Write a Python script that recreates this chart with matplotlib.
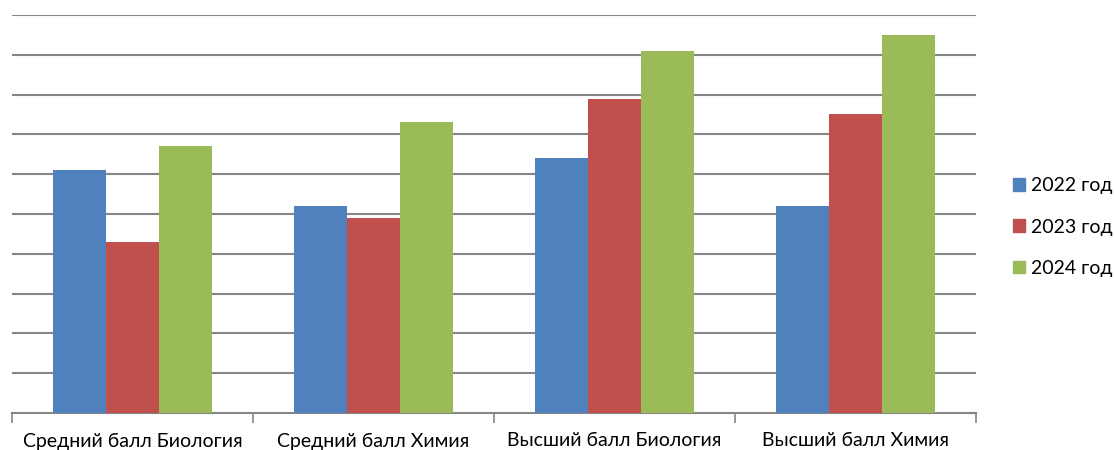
import numpy as np
import matplotlib.pyplot as plt
from matplotlib.patches import Patch

plt.rcParams['font.family'] = ['Lato', 'DejaVu Sans']

categories = ['Средний балл Биология', 'Средний балл Химия',
              'Высший балл Биология', 'Высший балл Химия']
series_names = ['2022 год', '2023 год', '2024 год']
v2022 = [6.1, 5.2, 6.4, 5.2]
v2023 = [4.3, 4.9, 7.9, 7.5]
v2024 = [6.7, 7.3, 9.1, 9.5]
colors = ['#4F81BD', '#C0504D', '#9BBB59']

fig = plt.figure(figsize=(11.14, 4.5), dpi=100)
ax = fig.add_axes([12 / 1114, 1 - 413 / 450, (976 - 12) / 1114, (413 - 15) / 450])

x = np.arange(len(categories))
w = 0.22
for i, vals in enumerate([v2022, v2023, v2024]):
    ax.bar(x + (i - 1) * w, vals, width=w, color=colors[i], zorder=3)

ax.set_xlim(-0.5, len(categories) - 0.5)
ax.set_ylim(0, 10)
ax.set_yticks(np.arange(1, 11))
ax.yaxis.grid(True, color='#868686', linewidth=1.5, zorder=0)
ax.tick_params(axis='y', left=False, labelleft=False)

ax.set_xticks(x)
ax.set_xticklabels(categories, fontsize=14)
ax.set_xticks(np.arange(-0.5, len(categories)), minor=True)
ax.tick_params(axis='x', which='major', length=0, pad=14)
ax.tick_params(axis='x', which='minor', length=7, width=1.2, color='#868686')

for s in ['top', 'right', 'left']:
    ax.spines[s].set_visible(False)
ax.spines['bottom'].set_color('#868686')
ax.spines['bottom'].set_linewidth(1.5)

handles = [Patch(color=c, label=n) for c, n in zip(colors, series_names)]
fig.legend(handles=handles, loc='center left', bbox_to_anchor=(1013 / 1114, 1 - 227 / 450),
           frameon=False, fontsize=14, handlelength=0.6, handleheight=0.6,
           handletextpad=0.35, labelspacing=1.25, borderaxespad=0, borderpad=0)

fig.savefig('out.png', dpi=100)
